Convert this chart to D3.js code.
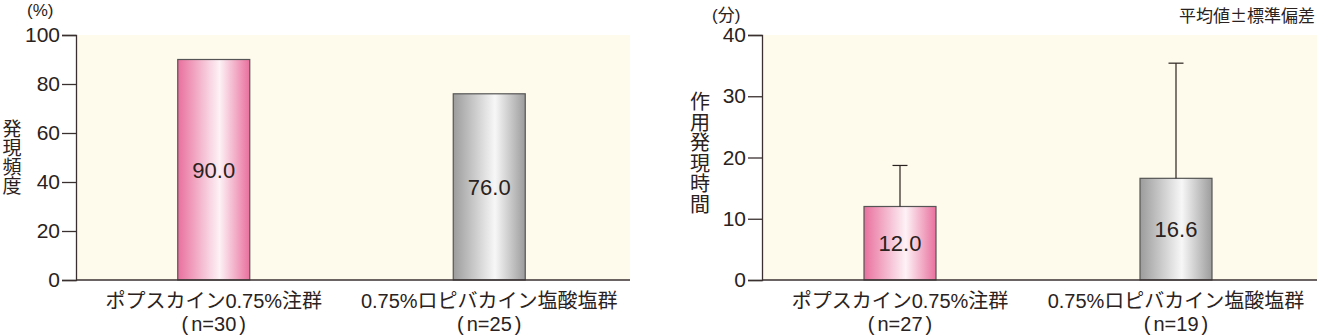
<!DOCTYPE html>
<html lang="ja">
<head>
<meta charset="UTF-8">
<title>発現頻度・作用発現時間</title>
<style>
  body { margin: 0; background: #fff; }
  svg text { font-family: "Liberation Sans", "Noto Sans CJK JP", sans-serif; fill: #2a2220; }
</style>
</head>
<body>
<svg id="chart" width="1317" height="335"></svg>
<script src="https://d3js.org/d3.v7.min.js"></script>
<script>
// left panel: onset frequency (%)
const freqGroups = ["ポプスカイン0.75%注群", "0.75%ロピバカイン塩酸塩群"];
const freqN = ["n=30", "n=25"];
const freqValues = [90.0, 76.0];
const freqTicks = [0, 20, 40, 60, 80, 100];

// right panel: onset time (min), mean ± SD
const timeGroups = ["ポプスカイン0.75%注群", "0.75%ロピバカイン塩酸塩群"];
const timeN = ["n=27", "n=19"];
const timeMeans = [12.0, 16.6];
const timeSD = [6.7, 18.8];
const timeTicks = [0, 10, 20, 30, 40];

const svg = d3.select("#chart");
const axisColor = "#3a3030";

// gradients for the cylinder-looking bars
const defs = svg.append("defs");
function grad(id, edge, mid) {
  const g = defs.append("linearGradient").attr("id", id)
    .attr("x1", "0%").attr("x2", "100%").attr("y1", "0%").attr("y2", "0%");
  g.append("stop").attr("offset", "0%").attr("stop-color", edge);
  g.append("stop").attr("offset", "58%").attr("stop-color", mid);
  g.append("stop").attr("offset", "100%").attr("stop-color", edge);
}
grad("pink", "#e9709d", "#fdf2f6");
grad("gray", "#9c9c9c", "#f7f7f7");
const fills = ["url(#pink)", "url(#gray)"];

function panel(opt) {
  const g = svg.append("g");
  const y = d3.scaleLinear().domain([0, opt.max]).range([280, 35]);
  const x = d3.scalePoint().domain(opt.groups).range([opt.x0, opt.x1]).padding(0.5);

  g.append("rect")
    .attr("x", opt.x0).attr("y", y(opt.max))
    .attr("width", opt.bgEnd - opt.x0).attr("height", y(0) - y(opt.max))
    .attr("fill", "#fefbec");

  // y axis
  const ax = g.append("g")
    .attr("transform", `translate(${opt.x0},0)`)
    .call(d3.axisLeft(y).tickValues(opt.ticks).tickSize(14).tickPadding(2));
  ax.select(".domain").attr("stroke", axisColor).attr("stroke-width", 1.3);
  ax.selectAll(".tick line").attr("stroke", axisColor).attr("stroke-width", 1.3);
  ax.selectAll(".tick text").attr("font-size", 21).style("font-family", "Liberation Sans, sans-serif").attr("fill", "#2a2220");

  // bars
  const bw = 72;
  g.selectAll(".bar").data(opt.values).enter().append("rect")
    .attr("x", (d, i) => x(opt.groups[i]) - bw / 2)
    .attr("y", d => y(d))
    .attr("width", bw)
    .attr("height", d => y(0) - y(d))
    .attr("fill", (d, i) => fills[i])
    .attr("stroke", "#555")
    .attr("stroke-width", 1.2);

  // error bars (upper half only)
  if (opt.sd) {
    opt.values.forEach((v, i) => {
      const cx = x(opt.groups[i]);
      g.append("line").attr("x1", cx).attr("x2", cx)
        .attr("y1", y(v)).attr("y2", y(v + opt.sd[i]))
        .attr("stroke", "#2a2220").attr("stroke-width", 1.2);
      g.append("line").attr("x1", cx - 7.5).attr("x2", cx + 7.5)
        .attr("y1", y(v + opt.sd[i])).attr("y2", y(v + opt.sd[i]))
        .attr("stroke", "#2a2220").attr("stroke-width", 1.2);
    });
  }

  // x axis line
  g.append("line").attr("x1", opt.x0).attr("x2", opt.bgEnd)
    .attr("y1", y(0)).attr("y2", y(0))
    .attr("stroke", axisColor).attr("stroke-width", 1.3);

  // value labels
  g.selectAll(".val").data(opt.values).enter().append("text")
    .attr("x", (d, i) => x(opt.groups[i]))
    .attr("y", d => (y(d) + y(0)) / 2)
    .attr("dy", "0.36em")
    .attr("text-anchor", "middle")
    .attr("font-size", 22)
    .text(d => d.toFixed(1));

  // category labels
  opt.groups.forEach((c, i) => {
    g.append("text").attr("x", x(c)).attr("y", 308)
      .attr("text-anchor", "middle").attr("font-size", 20).text(c);
    const t = g.append("text").attr("x", x(c)).attr("y", 331)
      .attr("text-anchor", "middle").attr("font-size", 20);
    t.append("tspan").text("(");
    t.append("tspan").attr("dx", 3).text(opt.n[i]);
    t.append("tspan").attr("dx", 3).text(")");
  });

  // unit
  g.append("text").attr("x", opt.unitX).attr("y", opt.unitY)
    .attr("font-size", 17).text(opt.unit);

  // vertical title
  const chars = opt.title.split("");
  g.selectAll(".ttl").data(chars).enter().append("text")
    .attr("x", opt.titleX)
    .attr("y", (d, i) => opt.titleY + i * opt.titleStep)
    .attr("text-anchor", "middle")
    .attr("font-size", opt.titleSize)
    .text(d => d);
}

panel({
  groups: freqGroups, n: freqN, values: freqValues, ticks: freqTicks, max: 100,
  x0: 76, x1: 627, bgEnd: 630,
  unit: "(%)", unitX: 27, unitY: 16,
  title: "発現頻度", titleX: 12, titleY: 136, titleStep: 19, titleSize: 19
});

panel({
  groups: timeGroups, n: timeN, values: timeMeans, sd: timeSD, ticks: timeTicks, max: 40,
  x0: 762, x1: 1314, bgEnd: 1317,
  unit: "(分)", unitX: 712, unitY: 21,
  title: "作用発現時間", titleX: 700, titleY: 109, titleStep: 20.5, titleSize: 20
});

svg.append("text").attr("x", 1315).attr("y", 22)
  .attr("text-anchor", "end").attr("font-size", 17)
  .style("font-family", "Noto Sans CJK JP, sans-serif")
  .text("平均値±標準偏差");
</script>
</body>
</html>
